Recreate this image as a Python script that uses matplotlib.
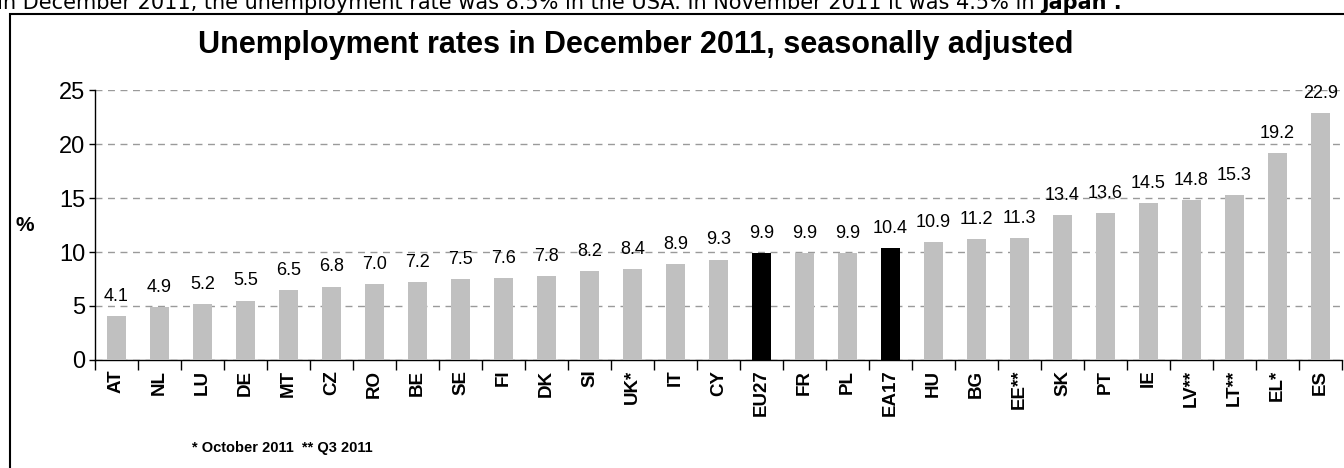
import matplotlib
matplotlib.use("Agg")
import matplotlib.pyplot as plt
import numpy as np
from matplotlib.patches import Rectangle
from matplotlib.ticker import FixedLocator

plt.rcParams["font.family"] = ["Liberation Sans", "DejaVu Sans"]

# Unemployment rates, December 2011 (seasonally adjusted)
countries = ["AT", "NL", "LU", "DE", "MT", "CZ", "RO", "BE", "SE", "FI", "DK", "SI", "UK*",
             "IT", "CY", "EU27", "FR", "PL", "EA17", "HU", "BG", "EE**", "SK", "PT", "IE",
             "LV**", "LT**", "EL*", "ES"]
rates = [4.1, 4.9, 5.2, 5.5, 6.5, 6.8, 7.0, 7.2, 7.5, 7.6, 7.8, 8.2, 8.4,
         8.9, 9.3, 9.9, 9.9, 9.9, 10.4, 10.9, 11.2, 11.3, 13.4, 13.6, 14.5,
         14.8, 15.3, 19.2, 22.9]
aggregates = ["EU27", "EA17"]
y_ticks = [0, 5, 10, 15, 20, 25]
footnotes = ["* October 2011", "** Q3 2011"]

W, H = 1344, 468
fig = plt.figure(figsize=(W / 100, H / 100), dpi=100)

# axes placed in pixel terms
left, right, bottom, top = 95, 1342, 360, 90
ax = fig.add_axes([left / W, 1 - bottom / H, (right - left) / W, (bottom - top) / H])

x = np.arange(len(countries))
colors = ["black" if c in aggregates else "#c0c0c0" for c in countries]
ax.bar(x, rates, width=0.42, color=colors, zorder=3)

for xi, v in zip(x, rates):
    ax.annotate(f"{v:.1f}", (xi, v), xytext=(0, 8), textcoords="offset points",
                ha="center", va="bottom", fontsize=13, zorder=4)

ax.set_xlim(-0.5, len(countries) - 0.5)
ax.set_ylim(0, 25)
ax.set_yticks(y_ticks)
ax.tick_params(axis="y", labelsize=17, length=4, width=1, direction="out", pad=3)
ax.yaxis.grid(True, color="#9a9a9a", linestyle=(0, (5, 4)), linewidth=1)
ax.set_axisbelow(True)

ax.set_xticks(x)
ax.set_xticklabels(countries, rotation=90, fontweight="bold", fontsize=13.5)
ax.tick_params(axis="x", which="major", length=0, pad=7)
ax.xaxis.set_minor_locator(FixedLocator(np.arange(-0.5, len(countries), 1.0)))
ax.tick_params(axis="x", which="minor", length=7, width=1, direction="out")

for s in ["top", "right"]:
    ax.spines[s].set_visible(False)
ax.spines["left"].set_linewidth(1)
ax.spines["bottom"].set_linewidth(1)

fig.text(636 / W, 1 - 45 / H, "Unemployment rates in December 2011, seasonally adjusted",
         ha="center", va="center", fontsize=22, fontweight="bold")
fig.text(25 / W, 1 - 225 / H, "%", ha="center", va="center", fontsize=15, fontweight="bold")
for fx, label in zip([192, 302], footnotes):
    fig.text(fx / W, 1 - 448 / H, label, ha="left", va="center",
             fontsize=10.5, fontweight="bold")

# half-clipped sentence above the frame
note = fig.text(-3 / W, 1 - 9 / H,
                "In December 2011, the unemployment rate was 8.5% in the USA. "
                "In November 2011 it was 4.5% in ",
                ha="left", va="baseline", fontsize=15, family="DejaVu Sans")
ax.annotate("Japan .", xy=(1, 0), xycoords=note, ha="left", va="bottom",
            fontsize=15, fontweight="bold", family="DejaVu Sans", annotation_clip=False)

# frame around the chart
fig.patches.append(Rectangle((10 / W, -0.1), 1.2, 1 - 14 / H + 0.1, transform=fig.transFigure,
                             fill=False, edgecolor="black", linewidth=1.5))

fig.savefig("out.png", dpi=100)
